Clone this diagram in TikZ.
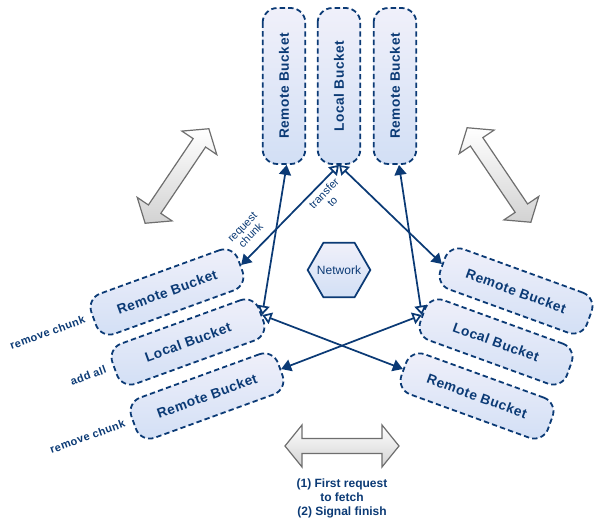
\documentclass[tikz,border=0pt]{standalone}
\usepackage{fontspec}
\setmainfont{Liberation Sans}
\newfontfamily\spacedfont[LetterSpace=4]{Liberation Sans}
\usetikzlibrary{arrows.meta,shapes.geometric}

\definecolor{navy}{HTML}{0B3A75}
\definecolor{bucketTop}{HTML}{F0F0FA}
\definecolor{bucketBottom}{HTML}{D2DFF5}
\definecolor{arrowGray}{HTML}{6E6E6E}

\tikzset{
  bucket/.style={draw=navy, line width=1.35pt, dash pattern=on 4pt off 2.4pt,
    rounded corners=11pt, top color=bucketTop, bottom color=bucketBottom,
    minimum width=117pt, minimum height=32pt, inner sep=0pt, text=navy,
    font=\spacedfont\bfseries\fontsize{10.25}{11}\selectfont},
  link/.style={navy, line width=1.3pt,
    {Triangle[open,length=7pt,width=9pt]}-{Triangle[length=7.5pt,width=9pt]}},
  edgelabel/.style={text=navy, font=\fontsize{8.25}{8.75}\selectfont,
    align=center, inner sep=1pt},
  sidelabel/.style={text=navy, font=\spacedfont\bfseries\fontsize{8.25}{10}\selectfont,
    anchor=east, inner sep=0pt},
  twoway/.pic={
    \draw[arrowGray, line width=0.9pt, top color=white, bottom color=gray!35]
      (-57,0) -- (-40,-21) -- (-40,-7.5) -- (40,-7.5) -- (40,-21) -- (57,0)
      -- (40,21) -- (40,7.5) -- (-40,7.5) -- (-40,21) -- cycle;
  }
}

\begin{document}
\begin{tikzpicture}[x=0.75pt, y=-0.75pt]
	\useasboundingbox (0,0) rectangle (604,527);

	% Buckets above
	\node[bucket, rotate=90] (rt1) at (284,86) {Remote Bucket};
	\node[bucket, rotate=90] (lt) at (339,86) {Local Bucket};
	\node[bucket, rotate=90] (rt2) at (395,86) {Remote Bucket};

	% Buckets on the left
	\node[bucket, rotate=20] (rl1) at (167,292) {Remote Bucket};
	\node[bucket, rotate=20] (ll) at (188,342) {Local Bucket};
	\node[bucket, rotate=20] (rl2) at (207,396) {Remote Bucket};

	% Buckets on the right
	\node[bucket, rotate=-20] (rr1) at (516,291) {Remote Bucket};
	\node[bucket, rotate=-20] (lr) at (496,342) {Local Bucket};
	\node[bucket, rotate=-20] (rr2) at (477,396) {Remote Bucket};

	% Network in the middle
	\node[regular polygon, regular polygon sides=6, minimum size=47pt,
		draw=navy, line width=1.3pt, top color=bucketTop, bottom color=bucketBottom,
		inner sep=0pt, label={[text=navy, font=\fontsize{9}{10}\selectfont]center:Network}]
		(net) at (339,270) {};

	% Side notes
	\node[sidelabel, rotate=20] (rm1) at ([xshift=-6pt]rl1.west) {remove chunk};
	\node[sidelabel, rotate=20] (add) at ([xshift=-6pt]ll.west) {add all};
	\node[sidelabel, rotate=20] (rm2) at ([xshift=-6pt]rl2.west) {remove chunk};

	% Transfers
	\draw[link] (lt.west) -- (rl1.east)
		node[edgelabel, pos=0.22, sloped, below=2pt] {transfer\\to}
		node[edgelabel, pos=0.8, sloped, above=6pt] {request\\chunk};
	\draw[link] (lt.west) -- (rr1.west);
	\draw[link] (ll.east) -- ([xshift=2pt]rt1.west);
	\draw[link] (ll.east) -- (rr2.west);
	\draw[link] (lr.west) -- ([xshift=3pt]rt2.west);
	\draw[link] (lr.west) -- (rl2.east);

	% Grey double arrows
	\pic[rotate=56] at (177,176) {twoway};
	\pic[rotate=-56] at (499,175) {twoway};
	\pic at (342,446) {twoway};

	\node[text=navy, font=\bfseries\fontsize{9}{10.5}\selectfont, align=center]
		(steps) at (342,498) {(1) First request\\to fetch\\(2) Signal finish};
\end{tikzpicture}
\end{document}
